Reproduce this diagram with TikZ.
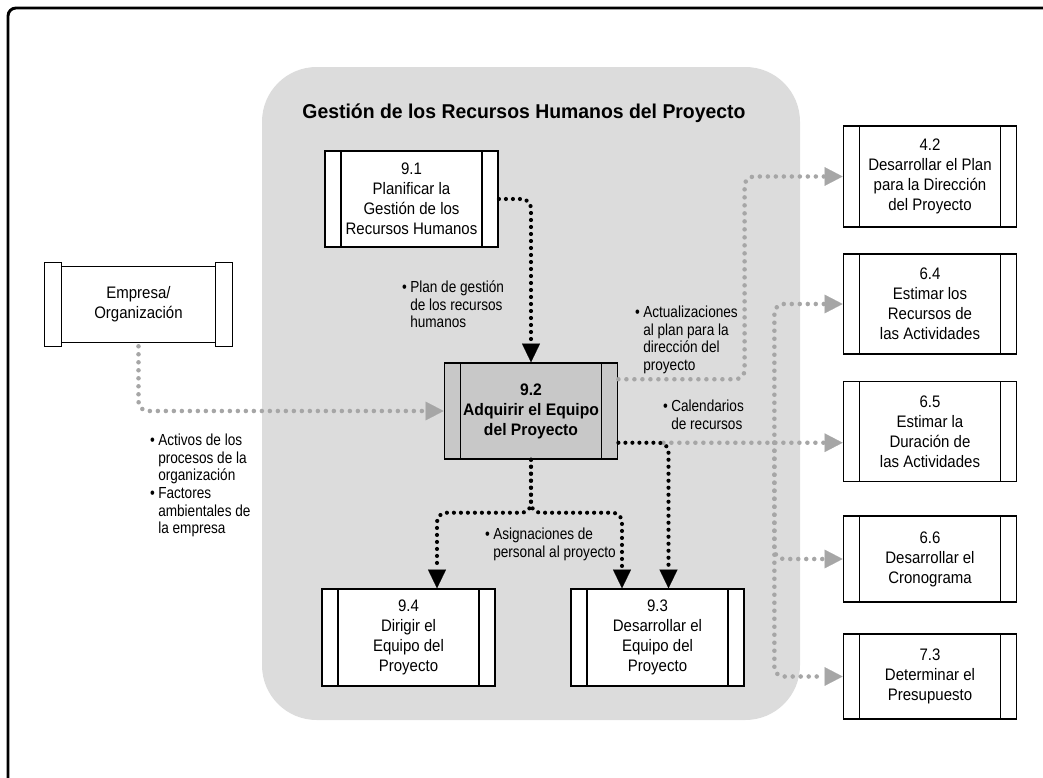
\documentclass[tikz,border=0pt]{standalone}
\usepackage{fontspec}
\setmainfont{Liberation Sans}
\newfontfamily\boxf{Liberation Sans}[FakeStretch=0.9]
\newfontfamily\boxbf{Liberation Sans}[FakeStretch=0.94]
\newfontfamily\lblf{Liberation Sans}[FakeStretch=0.85]
\newfontfamily\ttlf{Liberation Sans}[FakeStretch=0.97]
\usetikzlibrary{arrows.meta,calc}
\definecolor{bgGray}{HTML}{DCDCDC}
\definecolor{boxGray}{HTML}{C8C8C8}
\definecolor{dotGray}{HTML}{A6A6A6}
\newcommand{\blt}{\llap{\textbullet\hspace{2.5pt}}\rule{0pt}{12pt}}
\begin{document}
\begin{tikzpicture}[x=0.75pt,y=-0.75pt,
 proc/.style={draw, line width=1.1pt, fill=white, inner sep=0pt, minimum width=130pt, align=center,
   font=\boxf\fontsize{12.5}{15}\selectfont,
   path picture={\draw[line width=1.1pt] ([xshift=12pt]path picture bounding box.north west) -- ([xshift=12pt]path picture bounding box.south west);
                 \draw[line width=1.1pt] ([xshift=-12pt]path picture bounding box.north east) -- ([xshift=-12pt]path picture bounding box.south east);}},
 lbl/.style={anchor=north west, inner sep=0pt, align=left, font=\lblf\fontsize{12}{13.1}\selectfont},
 blk/.style={draw=black, line width=3.1pt, line cap=round, dash pattern=on 0pt off 5.25pt, rounded corners=7pt,
   -{Triangle[length=14pt,width=13.5pt,line width=0.1pt]}},
 gry/.style={draw=dotGray, line width=3.4pt, line cap=round, dash pattern=on 0pt off 6pt, rounded corners=7pt,
   -{Triangle[length=13.5pt,width=14pt,line width=0.1pt]}},
]
\useasboundingbox (0,0) rectangle (1043,778);
\clip (0,0) rectangle (1043,778);
% frame and group background
\draw[line width=2.2pt, rounded corners=6pt] (8,8) rectangle (1070,800);
\fill[bgGray, rounded corners=41pt] (262,67) rectangle (800,720);
\node[font=\ttlf\bfseries\fontsize{15}{18}\selectfont] (title) at (524,113) {Gestión de los Recursos Humanos del Proyecto};

% process boxes
\node[proc, minimum height=72pt] (p91) at (411.5,199) {9.1\\Planificar la\\Gestión de los\\Recursos Humanos};
\node[proc, fill=boxGray, minimum height=72pt, font=\boxbf\bfseries\fontsize{12.5}{15}\selectfont] (p92) at (531,411) {9.2\\Adquirir el Equipo\\del Proyecto};
\node[proc, minimum height=72.75pt] (p94) at (408.5,637.5) {9.4\\Dirigir el\\Equipo del\\Proyecto};
\node[proc, minimum height=72.75pt] (p93) at (657.5,637.5) {9.3\\Desarrollar el\\Equipo del\\Proyecto};
\node[proc, minimum height=75.75pt] (p42) at (930,176.5) {4.2\\Desarrollar el Plan\\para la Dirección\\del Proyecto};
\node[proc, minimum height=75pt] (p64) at (930,304) {6.4\\Estimar los\\Recursos de\\las Actividades};
\node[proc, minimum height=75pt] (p65) at (930,431.5) {6.5\\Estimar la\\Duración de\\las Actividades};
\node[proc, minimum height=64.5pt] (p66) at (930,559) {6.6\\Desarrollar el\\Cronograma};
\node[proc, minimum height=63.75pt] (p73) at (930,676.5) {7.3\\Determinar el\\Presupuesto};

% Empresa / Organizacion (scroll shape)
\node[inner sep=0pt, minimum width=140.25pt, minimum height=62.25pt, align=center,
      font=\boxf\fontsize{12.5}{15}\selectfont] (e) at (138.5,304.5) {Empresa/\\Organización};
\draw[line width=1.1pt] (e.north west) rectangle ($(e.south west)+(17,0)$);
\draw[line width=1.1pt] ($(e.north east)+(-17,0)$) rectangle (e.south east);
\draw[line width=1.1pt] ($(e.north west)+(17,4)$) rectangle ($(e.south east)+(-17,-4)$);

% coordinates
\coordinate (o1) at ($(p92.north east)+(0,17)$);
\coordinate (o2) at ($(p92.south east)+(0,-17)$);
\coordinate (g0) at ($(o2)+(45,0)$);
\coordinate (bus) at ($(o2)+(156,0)$);
\coordinate (up42) at ($(p42.west)+(-98,0)$);
\coordinate (split) at ($(p92.south)+(0,53)$);
\coordinate (b94) at ($(p94.north)+(28.5,0)$);
\coordinate (b93l) at ($(p93.north)+(-35.5,0)$);
\coordinate (b93r) at ($(p93.north)+(11,0)$);

% connectors
\draw[gry] (e.south) |- (p92.west);
\draw[gry] (o1) -| (up42) -- (p42.west);
\draw[gry] (g0) -- (p65.west |- o2);
\draw[gry] (bus) |- (p64.west);
\draw[gry] (bus) |- (p66.west);
\draw[gry] (bus) |- (p73.west);
\draw[blk] (p91.east) -| (p92.north);
\draw[blk] (o2) -| (b93r);
\draw[blk] (p92.south) -- (split) -| (b94);
\draw[blk] (p92.south) -- (split) -| (b93l);

% labels
\node[lbl] (l1) at (410,276.5) {\blt Plan de gestión\\de los recursos\\humanos};
\node[lbl] (l2) at (643,301.5) {\blt Actualizaciones\\al plan para la\\dirección del\\proyecto};
\node[lbl] (l3) at (671,395.5) {\blt Calendarios\\de recursos};
\node[lbl] (l4) at (158,429.5) {\blt Activos de los\\procesos de la\\organización};
\node[lbl] (l5) at (158,482.5) {\blt Factores\\ambientales de\\la empresa};
\node[lbl] (l6) at (493,523.5) {\blt Asignaciones de\\personal al proyecto};
\end{tikzpicture}
\end{document}
